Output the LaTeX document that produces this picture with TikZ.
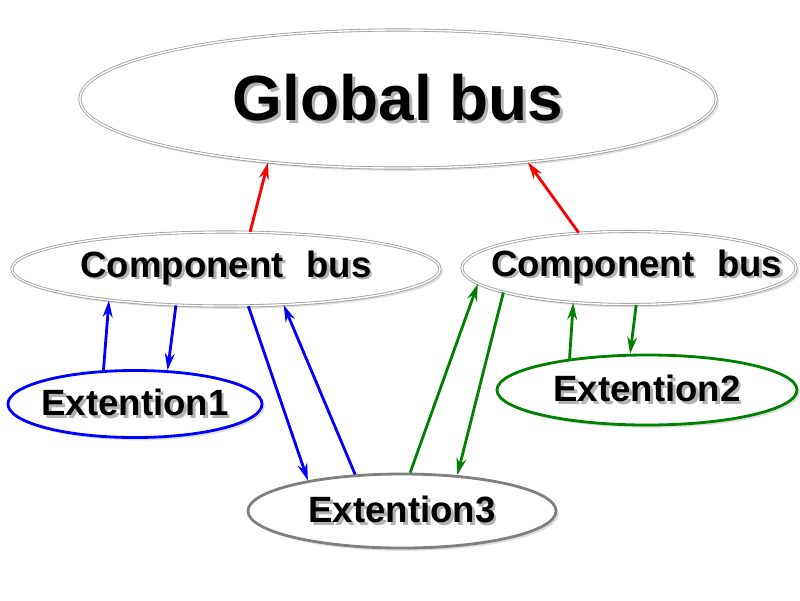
\documentclass[tikz,border=0pt]{standalone}
\usepackage{fontspec}
\setmainfont{Liberation Sans}
\usetikzlibrary{shapes.geometric,shadows,arrows.meta}
\definecolor{extgreen}{RGB}{0,128,0}
\newcommand{\shtext}[1]{\makebox[0pt]{\rlap{\hspace{2pt}\raisebox{-2pt}{\color{black!30}#1}}#1}}

\begin{document}
\begin{tikzpicture}[x=0.025cm,y=-0.025cm,
bus/.style={ellipse,draw=gray!75,double=white,double distance=1pt,line width=0.6pt,
    fill=white,inner sep=0pt,
    drop shadow={opacity=0.25,shadow xshift=2pt,shadow yshift=-2pt}},
ext/.style={ellipse,line width=2pt,fill=white,inner sep=0pt,
    drop shadow={opacity=0.25,shadow xshift=2pt,shadow yshift=-2pt}},
lnk/.style={-{Stealth[length=12pt,width=7pt]},line width=2pt}]

\useasboundingbox (0,0) rectangle (800,600);

\node[bus,minimum width=15.9cm,minimum height=3.45cm,
    font=\fontsize{45.5}{50}\selectfont\bfseries] (glob) at (398,99) {\shtext{Global bus}};
\node[bus,minimum width=10.7cm,minimum height=1.85cm,
    font=\fontsize{26}{30}\selectfont\bfseries] (cl) at (226,269) {\shtext{Component\hspace{0.35em} bus}};
\node[bus,minimum width=8.35cm,minimum height=1.825cm,
    font=\fontsize{26}{30}\selectfont\bfseries] (cr) at (629,268) {\shtext{\hspace*{11pt}Component\hspace{0.35em} bus}};
\node[ext,draw=blue,minimum width=6.35cm,minimum height=1.675cm,
    font=\fontsize{26}{30}\selectfont\bfseries] (e1) at (135,404) {\shtext{Extention1}};
\node[ext,draw=extgreen,minimum width=7.5cm,minimum height=1.75cm,
    font=\fontsize{26}{30}\selectfont\bfseries] (e2) at (647,390) {\shtext{Extention2}};
\node[ext,draw=gray,minimum width=7.7cm,minimum height=1.85cm,
    font=\fontsize{26}{30}\selectfont\bfseries] (e3) at (402,511) {\shtext{Extention3}};

% to the global bus
\draw[lnk,red] (cl.57) -- (glob.206);
\draw[lnk,red] (cr.145) -- (glob.334);

% left component bus
\draw[lnk,blue] (e1.133) -- (cl.195);
\draw[lnk,blue] (cl.216) -- (e1.46);
\draw[lnk,blue] (cl.301) -- (e3.162);
\draw[lnk,blue] (e3.142) -- (cl.328);

% right component bus
\draw[lnk,extgreen] (e3.78) -- (cr.186);
\draw[lnk,extgreen] (cr.191) -- (e3.33);
\draw[lnk,extgreen] (e2.158) -- (cr.212);
\draw[lnk,extgreen] (cr.281) -- (e2.115);
\end{tikzpicture}
\end{document}
